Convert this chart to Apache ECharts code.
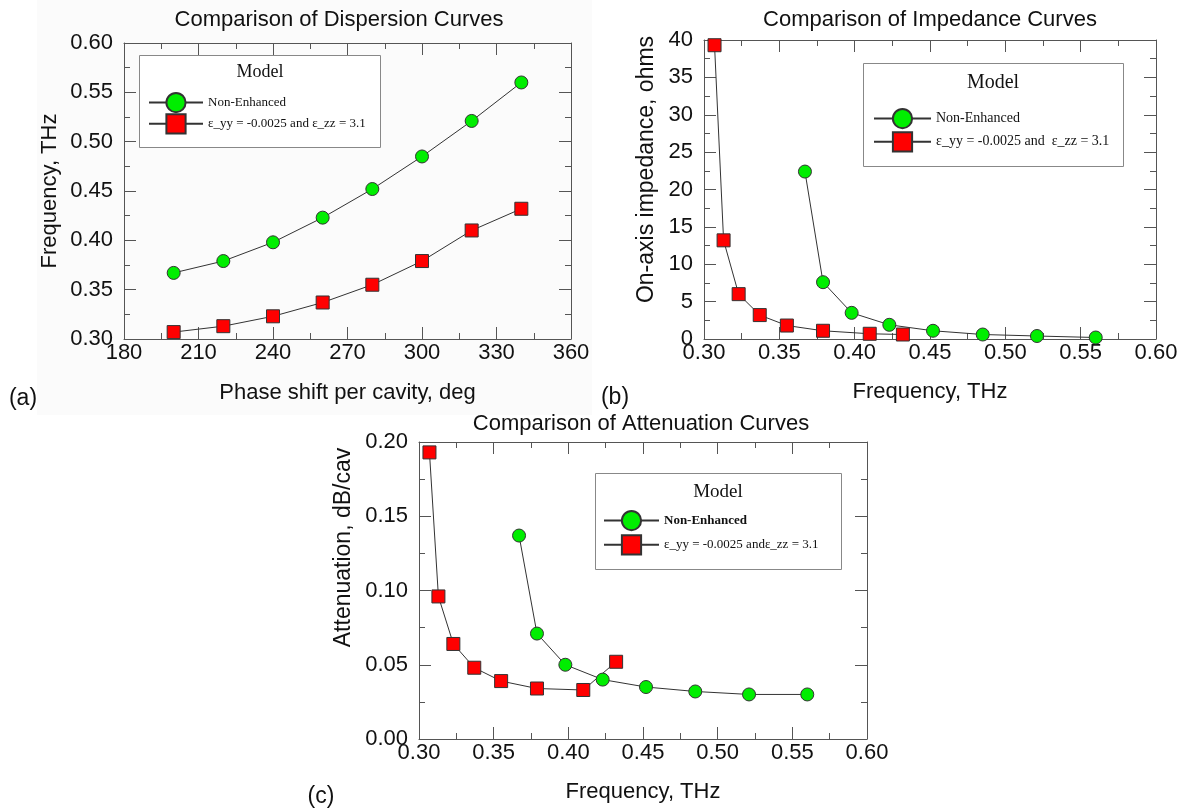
<!DOCTYPE html>
<html><head><meta charset="utf-8">
<script src="https://cdn.jsdelivr.net/npm/echarts@6/dist/echarts.min.js"></script>
<style>html,body{margin:0;padding:0;background:#fff}#c{width:1186px;height:808px}</style>
</head><body><div id="c"></div>
<script>
// ---- data ----
const phaseShift = [200, 220, 240, 260, 280, 300, 320, 340];
const freqNonEnh = [0.367, 0.379, 0.398, 0.423, 0.452, 0.485, 0.521, 0.560];
const freqEnh    = [0.307, 0.313, 0.323, 0.337, 0.355, 0.379, 0.410, 0.432];
const impNonEnh  = [22.4, 7.6, 3.5, 1.9, 1.1, 0.6, 0.4, 0.2];
const impEnh     = [39.3, 13.2, 6.0, 3.2, 1.8, 1.1, 0.7, 0.6];
const attNonEnh  = [0.137, 0.071, 0.050, 0.040, 0.035, 0.032, 0.030, 0.030];
const attEnh     = [0.193, 0.096, 0.064, 0.048, 0.039, 0.034, 0.033, 0.052];

const titles = ['Comparison of Dispersion Curves', 'Comparison of Impedance Curves', 'Comparison of Attenuation Curves'];
const nameNon = 'Non-Enhanced';
const nameEnhA = 'ε_yy = -0.0025 and ε_zz = 3.1';
const nameEnhB = 'ε_yy = -0.0025 and  ε_zz = 3.1';
const nameEnhC = 'ε_yy = -0.0025 andε_zz = 3.1';

const SANS = 'Liberation Sans, Arial, sans-serif';
const SERIF = 'Liberation Serif, Times New Roman, serif';
const AX = '#555';

function zip(xs, ys) { return xs.map((x, i) => [x, ys[i]]); }

function xPair(g, min, max, interval, fmt, name, nameGap) {
  const base = {
    type: 'value', gridIndex: g, min: min, max: max, interval: interval,
    axisLine: {show: true, onZero: false, lineStyle: {color: AX, width: 1}},
    axisTick: {show: true, inside: true, length: 12, lineStyle: {color: AX}},
    minorTick: {show: true, splitNumber: 2, length: 6, lineStyle: {color: AX}},
    splitLine: {show: false}
  };
  return [
    Object.assign({}, base, {position: 'bottom',
      axisLabel: {show: true, formatter: fmt, fontSize: 22, color: '#111', fontFamily: SANS, margin: 3},
      name: name, nameLocation: 'middle', nameGap: nameGap,
      nameTextStyle: {fontSize: 22, color: '#111', fontFamily: SANS}}),
    Object.assign({}, base, {position: 'top', axisLabel: {show: false}})
  ];
}
function yPair(g, min, max, interval, fmt, name, nameGap, shift, nameSize) {
  const base = {
    type: 'value', gridIndex: g, min: min, max: max, interval: interval,
    axisLine: {show: true, onZero: false, lineStyle: {color: AX, width: 1}},
    axisTick: {show: true, inside: true, length: 12, lineStyle: {color: AX}},
    minorTick: {show: true, splitNumber: 2, length: 6, lineStyle: {color: AX}},
    splitLine: {show: false}
  };
  return [
    Object.assign({}, base, {position: 'left',
      axisLabel: {show: true, formatter: fmt, fontSize: 22, color: '#111', fontFamily: SANS, margin: 11},
      name: name, nameLocation: 'middle', nameGap: nameGap,
      nameTextStyle: {fontSize: nameSize, color: '#111', fontFamily: SANS, padding: [0, 0, 0, shift]}}),
    Object.assign({}, base, {position: 'right', axisLabel: {show: false}})
  ];
}

const f2 = v => v.toFixed(2);
const f0 = v => String(Math.round(v));

const xAxes = [].concat(
  xPair(0, 180, 360, 30, f0, 'Phase shift per cavity, deg', 43),
  xPair(1, 0.30, 0.60, 0.05, f2, 'Frequency, THz', 42),
  xPair(2, 0.30, 0.60, 0.05, f2, 'Frequency, THz', 42)
);
const yAxes = [].concat(
  yPair(0, 0.30, 0.60, 0.05, f2, 'Frequency, THz', 63, 0, 22),
  yPair(1, 0, 40, 5, f0, 'On-axis impedance, ohms', 46, 40, 23),
  yPair(2, 0, 0.20, 0.05, f2, 'Attenuation, dB/cav', 64, 86, 23)
);

function ser(name, g, data, sym) {
  return {
    type: 'line', name: name, xAxisIndex: g * 2, yAxisIndex: g * 2, data: data,
    symbol: sym, symbolSize: 13, showSymbol: true,
    lineStyle: {color: '#333', width: 1},
    itemStyle: {color: sym === 'circle' ? '#00ee00' : '#ff0000', borderColor: '#333', borderWidth: 1},
    emphasis: {disabled: true}, animation: false
  };
}

const legendBase = {orient: 'vertical', itemWidth: 55, itemHeight: 24, padding: 0, selectedMode: false,
  textStyle: {fontFamily: SERIF, fontSize: 13, color: '#111'}};

const option = {
  backgroundColor: '#fff',
  animation: false,
  title: [
    {text: titles[0], left: 339, top: 9, textAlign: 'center', padding: 0, textStyle: {fontSize: 22, fontWeight: 'normal', color: '#111', fontFamily: SANS}},
    {text: titles[1], left: 930, top: 9, textAlign: 'center', padding: 0, textStyle: {fontSize: 22, fontWeight: 'normal', color: '#111', fontFamily: SANS}},
    {text: titles[2], left: 641, top: 413, textAlign: 'center', padding: 0, textStyle: {fontSize: 22, fontWeight: 'normal', color: '#111', fontFamily: SANS}}
  ],
  grid: [
    {left: 124, top: 43, width: 447, height: 296, outerBoundsMode: 'none'},
    {left: 704, top: 40, width: 452, height: 299, outerBoundsMode: 'none'},
    {left: 419, top: 442, width: 448, height: 297, outerBoundsMode: 'none'}
  ],
  xAxis: xAxes,
  yAxis: yAxes,
  legend: [
    Object.assign({}, legendBase, {left: 148, top: 92, itemGap: 0, itemWidth: 54, data: [nameNon, nameEnhA]}),
    Object.assign({}, legendBase, {left: 873, top: 108, itemGap: 2, itemWidth: 57, data: [nameNon, nameEnhB],
      textStyle: {fontFamily: SERIF, fontSize: 14, color: '#111'}}),
    Object.assign({}, legendBase, {left: 603, top: 510, itemGap: 3, data: [nameNon, nameEnhC],
      formatter: n => n === nameNon ? '{b|' + n + '}' : n,
      textStyle: {fontFamily: SERIF, fontSize: 13, color: '#111',
        rich: {b: {fontFamily: SERIF, fontSize: 13, fontWeight: 'bold', color: '#111'}}}})
  ],
  graphic: [
    {type: 'rect', z: -10, silent: true, shape: {x: 37, y: 0, width: 555, height: 415}, style: {fill: '#fbfbfb'}},
    {type: 'rect', z: 0, shape: {x: 139.5, y: 55.5, width: 241, height: 92}, style: {fill: '#fff', stroke: '#888', lineWidth: 1}},
    {type: 'rect', z: 0, shape: {x: 863.5, y: 63.5, width: 260, height: 103}, style: {fill: '#fff', stroke: '#888', lineWidth: 1}},
    {type: 'rect', z: 0, shape: {x: 595.5, y: 473.5, width: 246, height: 96}, style: {fill: '#fff', stroke: '#888', lineWidth: 1}},
    {type: 'text', z: 1, x: 260, y: 72, style: {text: 'Model', fontSize: 18, fontFamily: SERIF, fill: '#111', textAlign: 'center', textVerticalAlign: 'middle'}},
    {type: 'text', z: 1, x: 993, y: 83, style: {text: 'Model', fontSize: 20, fontFamily: SERIF, fill: '#111', textAlign: 'center', textVerticalAlign: 'middle'}},
    {type: 'text', z: 1, x: 718, y: 492, style: {text: 'Model', fontSize: 19, fontFamily: SERIF, fill: '#111', textAlign: 'center', textVerticalAlign: 'middle'}},
    {type: 'text', z: 1, x: 23, y: 399, style: {text: '(a)', fontSize: 23, fontFamily: SANS, fill: '#111', textAlign: 'center', textVerticalAlign: 'middle'}},
    {type: 'text', z: 1, x: 615, y: 398, style: {text: '(b)', fontSize: 23, fontFamily: SANS, fill: '#111', textAlign: 'center', textVerticalAlign: 'middle'}},
    {type: 'text', z: 1, x: 321, y: 797, style: {text: '(c)', fontSize: 23, fontFamily: SANS, fill: '#111', textAlign: 'center', textVerticalAlign: 'middle'}}
  ],
  series: [
    ser(nameNon, 0, zip(phaseShift, freqNonEnh), 'circle'),
    ser(nameEnhA, 0, zip(phaseShift, freqEnh), 'rect'),
    ser(nameNon, 1, zip(freqNonEnh, impNonEnh), 'circle'),
    ser(nameEnhB, 1, zip(freqEnh, impEnh), 'rect'),
    ser(nameNon, 2, zip(freqNonEnh, attNonEnh), 'circle'),
    ser(nameEnhC, 2, zip(freqEnh, attEnh), 'rect')
  ]
};
const chart = echarts.init(document.getElementById('c'));
chart.setOption(option);
</script>
</body></html>
